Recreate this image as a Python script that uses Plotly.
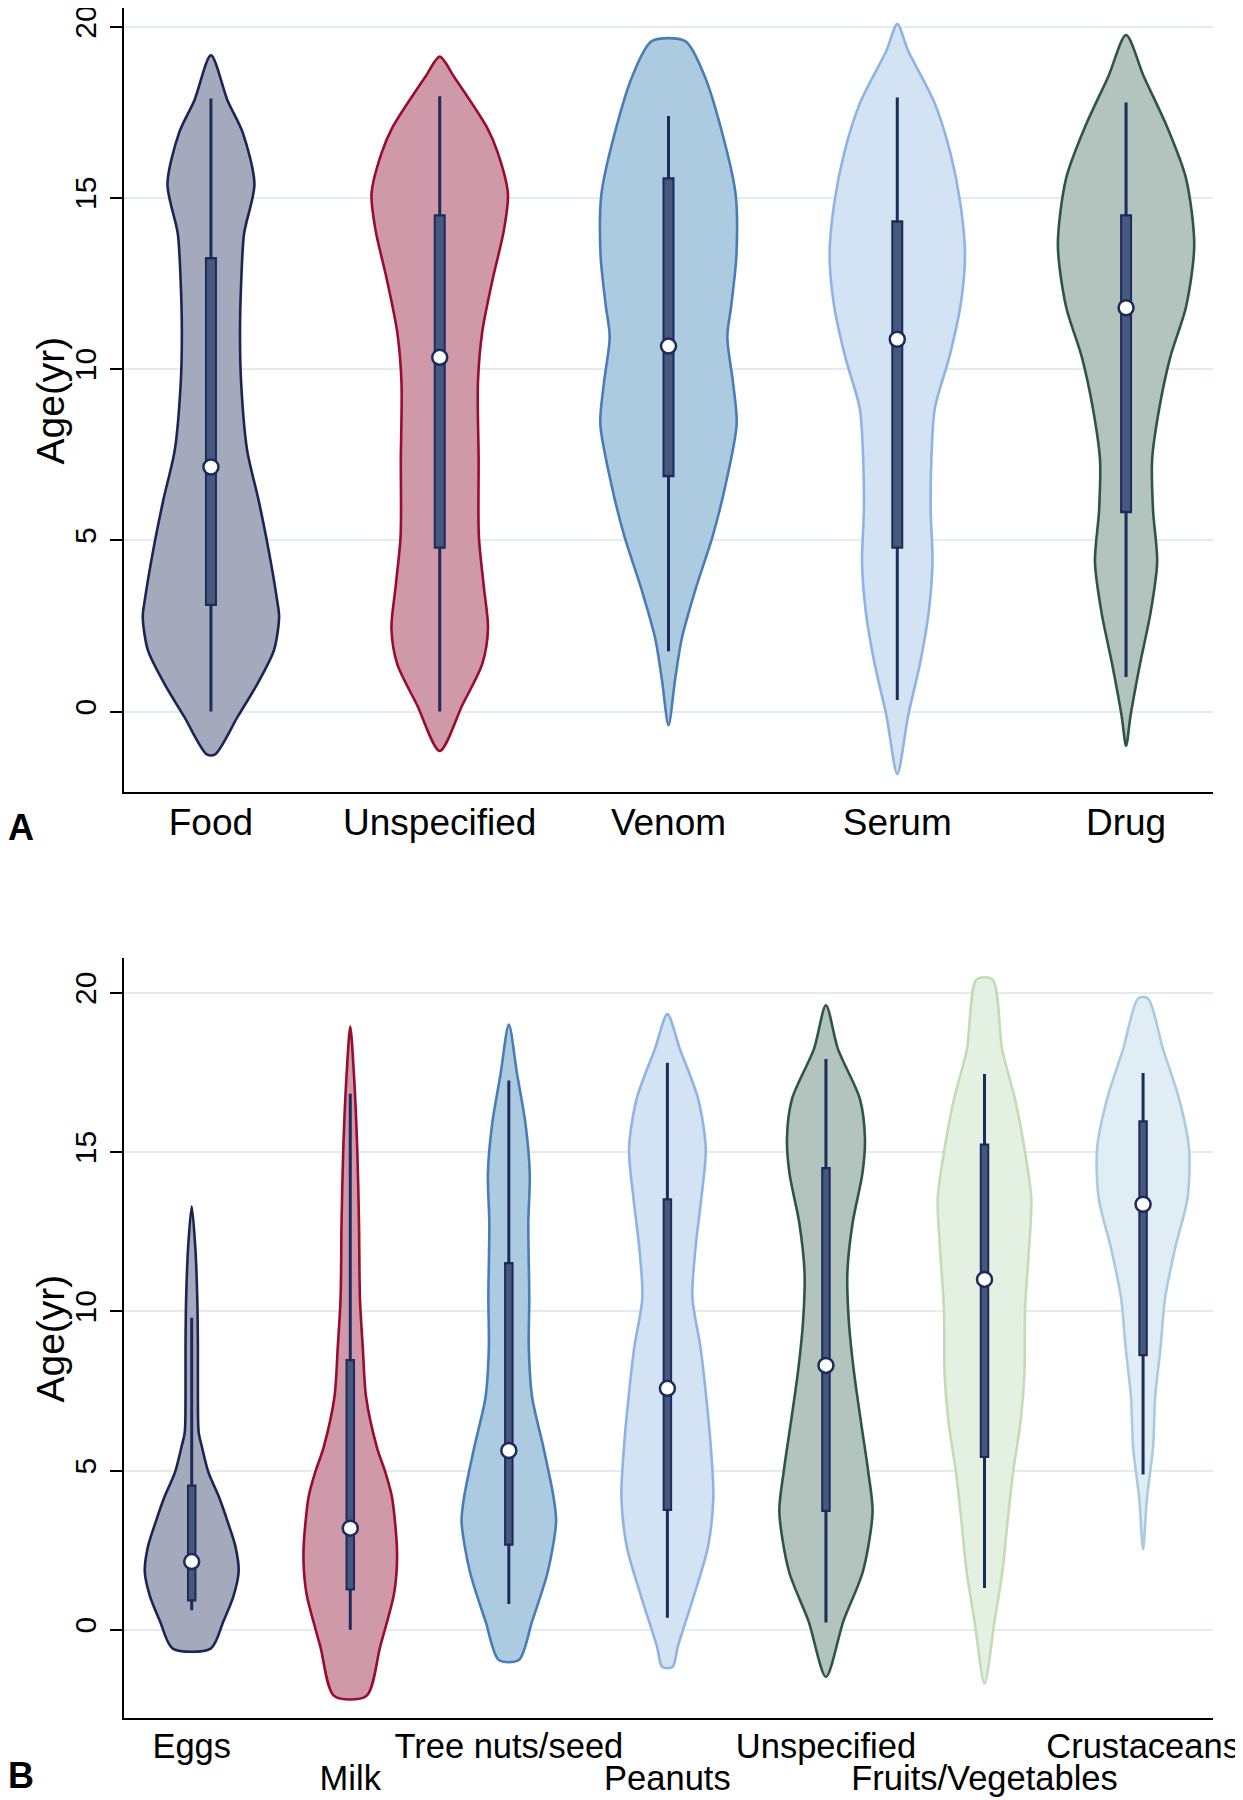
import plotly.graph_objects as go

# ---------------- Panel A : allergen groups ----------------
A_CATS = ["Food", "Unspecified", "Venom", "Serum", "Drug"]
A_MED = [7.14, 10.34, 10.67, 10.87, 11.79]
A_Q1 = [3.08, 4.75, 6.84, 4.75, 5.79]
A_Q3 = [13.27, 14.52, 15.6, 14.34, 14.52]
A_LO = [0.0, 0.0, 1.76, 0.34, 1.01]
A_HI = [17.9, 17.96, 17.39, 17.93, 17.78]

# violin outlines: age levels and half-widths (category units)
FOOD_AGE = [19.16, 17.85, 16.9, 15.4, 13.96, 12.5, 11.0, 9.6, 7.64, 6.18, 4.72, 3.26, 2.77, 1.8, 0.83, -0.15, -1.25]
FOOD_HW = [0, 0.072, 0.139, 0.19, 0.145, 0.132, 0.127, 0.132, 0.158, 0.208, 0.252, 0.289, 0.298, 0.276, 0.205, 0.117, 0.018]
UNSA_AGE = [19.12, 18.55, 17.06, 16.31, 15.12, 14.07, 12.58, 11.09, 9.6, 7.36, 5.12, 3.63, 2.43, 1.39, 0.19, -1.15]
UNSA_HW = [0, 0.061, 0.206, 0.254, 0.298, 0.281, 0.23, 0.186, 0.167, 0.17, 0.171, 0.193, 0.211, 0.186, 0.099, 0]
VENOM_AGE = [19.57, 18.55, 17.06, 15.12, 13.33, 11.84, 10.94, 9.6, 8.4, 6.61, 5.12, 3.63, 2.13, 0.94, -0.4]
VENOM_HW = [0.073, 0.158, 0.228, 0.293, 0.297, 0.274, 0.257, 0.282, 0.298, 0.249, 0.193, 0.121, 0.058, 0.029, 0]
SERUM_AGE = [20.07, 19.3, 17.8, 16.31, 14.82, 13.33, 11.84, 10.34, 8.85, 7.36, 5.87, 4.37, 2.88, 1.39, -0.1, -1.82]
SERUM_HW = [0, 0.047, 0.161, 0.232, 0.276, 0.296, 0.276, 0.227, 0.164, 0.149, 0.146, 0.154, 0.137, 0.099, 0.048, 0]
DRUG_AGE = [19.75, 18.55, 17.06, 15.57, 13.63, 11.84, 10.34, 8.85, 7.36, 5.87, 4.37, 2.88, 1.39, -0.1, -1.0]
DRUG_HW = [0, 0.077, 0.18, 0.262, 0.298, 0.263, 0.193, 0.145, 0.114, 0.118, 0.136, 0.107, 0.061, 0.02, 0]

# ---------------- Panel B : food subgroups ----------------
B_CATS = ["Eggs", "Milk", "Tree nuts/seed", "Peanuts", "Unspecified", "Fruits/Vegetables", "Crustaceans"]
B_MED = [2.14, 3.19, 5.63, 7.58, 8.3, 11.0, 13.36]
B_Q1 = [0.89, 1.23, 2.64, 3.73, 3.7, 5.39, 8.59]
B_Q3 = [4.56, 8.5, 11.55, 13.55, 14.53, 15.27, 16.0]
B_LO = [0.61, 0.0, 0.81, 0.375, 0.23, 1.31, 4.875]
B_HI = [9.8, 16.83, 17.25, 17.8, 17.92, 17.45, 17.48]

EGGS_AGE = [13.3, 11.98, 10.42, 8.86, 7.3, 6.2, 5.73, 4.95, 4.17, 3.39, 2.61, 1.83, 1.05, 0.27, -0.59]
EGGS_HW = [0, 0.023, 0.035, 0.039, 0.039, 0.044, 0.065, 0.105, 0.172, 0.227, 0.276, 0.296, 0.263, 0.2, 0.12]
MILK_AGE = [18.94, 17.45, 15.11, 12.77, 10.42, 8.86, 7.3, 5.73, 4.95, 4.17, 2.61, 1.83, 1.05, -0.52, -2.08]
MILK_HW = [0, 0.023, 0.044, 0.055, 0.061, 0.079, 0.1, 0.168, 0.221, 0.263, 0.294, 0.292, 0.273, 0.189, 0.101]
TREE_AGE = [19.0, 17.45, 15.89, 14.33, 12.77, 10.42, 8.86, 7.3, 5.73, 4.17, 3.39, 1.83, 0.27, -0.95]
TREE_HW = [0, 0.052, 0.105, 0.132, 0.123, 0.129, 0.126, 0.147, 0.218, 0.282, 0.298, 0.246, 0.147, 0.063]
PEAN_AGE = [19.33, 18.23, 16.67, 15.11, 13.55, 11.98, 10.42, 8.86, 7.3, 5.73, 4.17, 2.61, 1.05, -0.52, -1.17]
PEAN_HW = [0, 0.079, 0.194, 0.242, 0.214, 0.177, 0.158, 0.209, 0.245, 0.274, 0.29, 0.256, 0.166, 0.066, 0.032]
UNSB_AGE = [19.61, 18.23, 16.67, 15.42, 14.33, 12.77, 11.2, 9.64, 8.08, 6.52, 4.95, 3.7, 1.83, 0.27, -1.48]
UNSB_HW = [0, 0.076, 0.214, 0.246, 0.23, 0.168, 0.135, 0.145, 0.177, 0.221, 0.267, 0.294, 0.233, 0.11, 0]
FRUIT_AGE = [20.42, 18.23, 16.67, 15.11, 13.55, 11.98, 10.11, 8.08, 6.52, 4.95, 3.39, 1.83, 0.27, -1.69]
FRUIT_HW = [0.05, 0.111, 0.192, 0.252, 0.295, 0.281, 0.256, 0.252, 0.227, 0.18, 0.145, 0.113, 0.063, 0]
CRUST_AGE = [19.83, 18.23, 16.67, 15.11, 13.55, 11.98, 10.42, 8.86, 7.3, 5.73, 4.17, 2.53]
CRUST_HW = [0.03, 0.126, 0.227, 0.29, 0.28, 0.202, 0.139, 0.11, 0.076, 0.063, 0.025, 0]

Y_TICKS = [0, 5, 10, 15, 20]
Y_TITLE = "Age(yr)"

# ---------------- styles ----------------
LINE_COLORS = ["#1c2453", "#990c2e", "#4a7db3", "#8fb3e2", "#2f5545", "#c3dcb5", "#a9cadf"]
FILL_COLORS = ["#a4aabb", "#cf99a9", "#accbe0", "#d3e3f4", "#b3c3be", "#e4f0e2", "#e1edf4"]
BOX_DARK = "#1d2b5a"
BOX_FILL = "#46587e"
GRID = "#e4ecef"
FONT = "Arial, Liberation Sans, Helvetica, sans-serif"

A_PROFILES = [(FOOD_AGE, FOOD_HW), (UNSA_AGE, UNSA_HW), (VENOM_AGE, VENOM_HW),
              (SERUM_AGE, SERUM_HW), (DRUG_AGE, DRUG_HW)]
B_PROFILES = [(EGGS_AGE, EGGS_HW), (MILK_AGE, MILK_HW), (TREE_AGE, TREE_HW), (PEAN_AGE, PEAN_HW),
              (UNSB_AGE, UNSB_HW), (FRUIT_AGE, FRUIT_HW), (CRUST_AGE, CRUST_HW)]


def violin_path(idx, ages, hw):
    xs = [idx + w for w in hw]
    ys = list(ages)
    n = len(ages)
    for k in range(n - 1, -1, -1):
        if (k == 0 or k == n - 1) and hw[k] == 0:
            continue
        xs.append(idx - hw[k])
        ys.append(ages[k])
    xs.append(xs[0])
    ys.append(ys[0])
    return xs, ys


fig = go.Figure()


def add_panel(profiles, med, q1, q3, lo, hi, xa, ya, box_w, inner_w, odd_axis=None):
    for i, (ages, hw) in enumerate(profiles):
        xs, ys = violin_path(i, ages, hw)
        fig.add_trace(go.Scatter(
            x=xs, y=ys, mode="lines", fill="toself",
            fillcolor=FILL_COLORS[i],
            line=dict(color=LINE_COLORS[i], width=2.6, shape="spline", smoothing=0.8),
            xaxis=xa, yaxis=ya, hoverinfo="skip", showlegend=False))
    # whiskers
    wx, wy = [], []
    for i in range(len(med)):
        wx += [i, i, None]
        wy += [lo[i], hi[i], None]
    fig.add_trace(go.Scatter(x=wx, y=wy, mode="lines", line=dict(color=BOX_DARK, width=3),
                             xaxis=xa, yaxis=ya, hoverinfo="skip", showlegend=False))
    # box (outline + lighter inside)
    bx, by, ix, iy = [], [], [], []
    for i in range(len(med)):
        bx += [i, i, None]
        by += [q1[i], q3[i], None]
        ix += [i, i, None]
        iy += [q1[i] + 0.07, q3[i] - 0.07, None]
    fig.add_trace(go.Scatter(x=bx, y=by, mode="lines", line=dict(color=BOX_DARK, width=box_w),
                             xaxis=xa, yaxis=ya, hoverinfo="skip", showlegend=False))
    fig.add_trace(go.Scatter(x=ix, y=iy, mode="lines", line=dict(color=BOX_FILL, width=inner_w),
                             xaxis=xa, yaxis=ya, hoverinfo="skip", showlegend=False))
    # medians
    idxs = list(range(len(med)))
    even = [i for i in idxs if odd_axis is None or i % 2 == 0]
    mk = dict(color="white", size=15, line=dict(color=BOX_DARK, width=2.5))
    fig.add_trace(go.Scatter(x=even, y=[med[i] for i in even], mode="markers", marker=mk,
                             xaxis=xa, yaxis=ya, hoverinfo="skip", showlegend=False))
    if odd_axis is not None:
        odd = [i for i in idxs if i % 2 == 1]
        fig.add_trace(go.Scatter(x=odd, y=[med[i] for i in odd], mode="markers", marker=mk,
                                 xaxis=odd_axis, yaxis=ya, hoverinfo="skip", showlegend=False))


add_panel(A_PROFILES, A_MED, A_Q1, A_Q3, A_LO, A_HI, "x", "y", 12, 8)
add_panel(B_PROFILES, B_MED, B_Q1, B_Q3, B_LO, B_HI, "x2", "y2", 9.5, 5.5, odd_axis="x3")

yax_common = dict(
    tickvals=Y_TICKS, ticktext=[str(v) for v in Y_TICKS], tickangle=-90,
    ticks="outside", ticklen=12, tickwidth=1.5, tickcolor="black",
    showline=True, linecolor="black", linewidth=2,
    showgrid=True, gridcolor=GRID, gridwidth=2, zeroline=False,
    automargin=False, ticklabelstandoff=2, tickfont=dict(size=30),
    ticklabeloverflow="allow",
)
xax_common = dict(showline=True, linecolor="black", linewidth=2, ticks="",
                  showgrid=False, zeroline=False, automargin=False)

B_EVEN = [i for i in range(len(B_CATS)) if i % 2 == 0]
B_ODD = [i for i in range(len(B_CATS)) if i % 2 == 1]

A_DOM = [0.5415, 1.0]
B_DOM = [0.0, 0.4444]

fig.update_layout(
    width=1235, height=1792,
    margin=dict(l=116, r=30, t=0, b=82),
    plot_bgcolor="white", paper_bgcolor="white",
    showlegend=False,
    font=dict(family=FONT, color="black"),
    xaxis=dict(domain=[0, 1], anchor="y", range=[-0.38, 4.38],
               tickvals=list(range(len(A_CATS))), ticktext=A_CATS,
               tickfont=dict(size=37), ticklabelstandoff=-3, **xax_common),
    yaxis=dict(domain=A_DOM, anchor="x", range=[-2.35, 20.54], **yax_common),
    xaxis2=dict(domain=[0, 1], anchor="y2", range=[-0.427, 6.441],
                tickvals=B_EVEN, ticktext=[B_CATS[i] for i in B_EVEN],
                tickfont=dict(size=34.5), ticklabelstandoff=-3, **xax_common),
    xaxis3=dict(overlaying="x2", anchor="y2", side="bottom", range=[-0.427, 6.441],
                tickvals=B_ODD, ticktext=[B_CATS[i] for i in B_ODD],
                tickfont=dict(size=34.5), ticklabelstandoff=36,
                showline=False, ticks="", showgrid=False, zeroline=False, automargin=False),
    yaxis2=dict(domain=B_DOM, anchor="x2", range=[-2.77, 21.09], **yax_common),
    annotations=[
        dict(text=Y_TITLE, xref="paper", yref="paper", x=-0.0675, y=sum(A_DOM) / 2, textangle=-90,
             xanchor="center", yanchor="middle", showarrow=False, font=dict(size=39)),
        dict(text=Y_TITLE, xref="paper", yref="paper", x=-0.0675, y=sum(B_DOM) / 2, textangle=-90,
             xanchor="center", yanchor="middle", showarrow=False, font=dict(size=39)),
        dict(text="<b>A</b>", xref="paper", yref="paper", x=-0.0946, y=0.521,
             xanchor="center", yanchor="middle", showarrow=False, font=dict(size=36)),
        dict(text="<b>B</b>", xref="paper", yref="paper", x=-0.0946, y=-0.0339,
             xanchor="center", yanchor="middle", showarrow=False, font=dict(size=36)),
    ],
)

fig.write_html("out.html")
